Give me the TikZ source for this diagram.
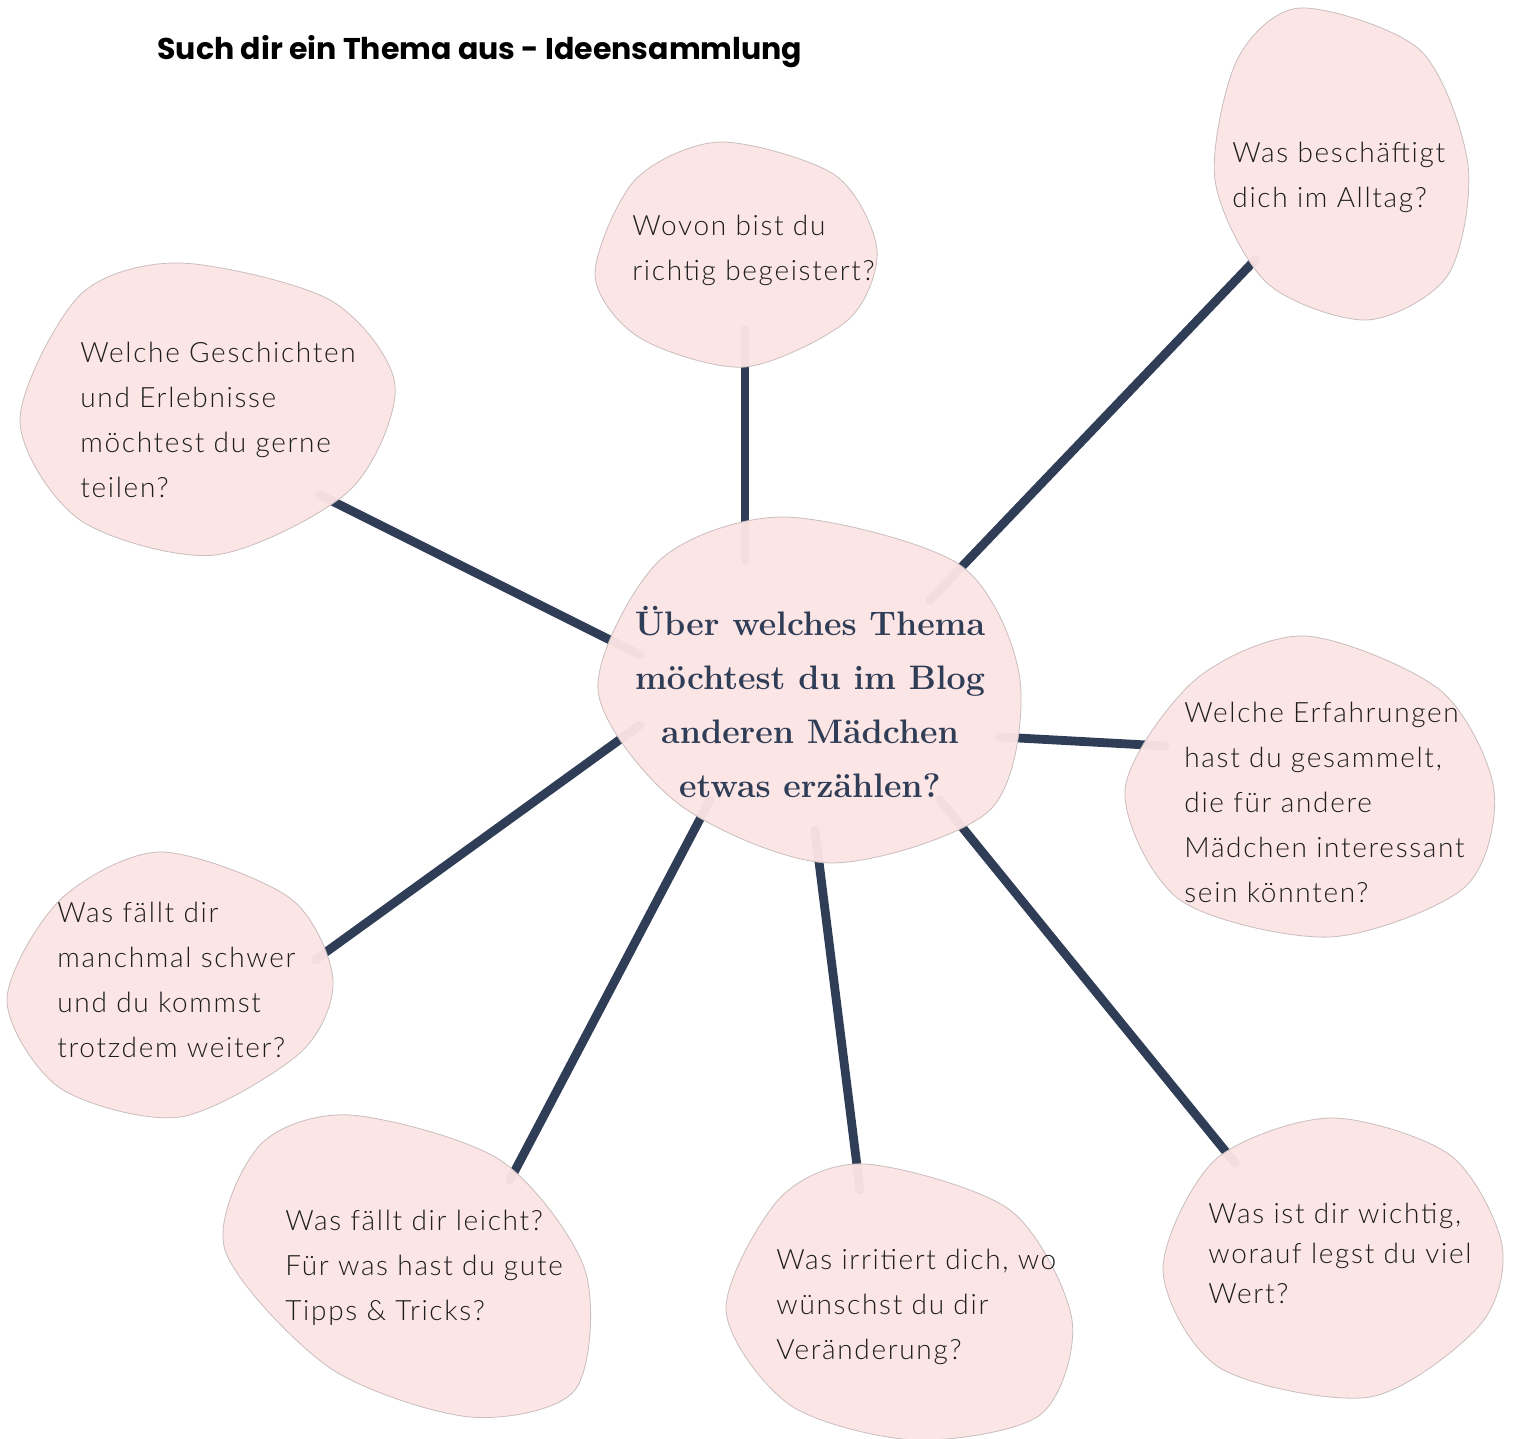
\documentclass[tikz,border=0pt]{standalone}
\usepackage{fontspec}
\newfontfamily\ideafont{Lato Light}[LetterSpace=6]
\newfontfamily\titlefont{Poppins}
\usetikzlibrary{positioning}

\definecolor{navy}{HTML}{2F3D56}
\definecolor{blobpink}{HTML}{FCE4E4}
\definecolor{blobline}{HTML}{C9BDBD}
\definecolor{ink}{HTML}{1E1E1E}

\tikzset{
  blob/.style={fill=blobpink,draw=blobline,line width=0.4pt,fill opacity=0.96},
  link/.style={draw=navy,line width=4.4pt,line cap=round},
  idea/.style={inner sep=0pt,anchor=west,align=left,text=ink,
    font=\ideafont\fontsize{14}{22.5}\selectfont},
  hubtext/.style={inner sep=0pt,align=center,text=navy,
    font=\bfseries\fontsize{17}{27}\selectfont}
}

\begin{document}
\begin{tikzpicture}[x=0.5pt,y=-0.5pt]
\useasboundingbox (0,0) rectangle (1517,1439);

\node[anchor=west,inner sep=0pt,font=\titlefont\bfseries\fontsize{15}{18}\selectfont] (title) at (157,52) {Such dir ein Thema aus - Ideensammlung};

%ends of the strokes
\coordinate (h-wovon) at (745,560);
\coordinate (o-wovon) at (745,330);
\coordinate (h-alltag) at (930,600);
\coordinate (o-alltag) at (1255,260);
\coordinate (h-geschichten) at (640,655);
\coordinate (o-geschichten) at (320,495);
\coordinate (h-erfahrungen) at (1000,737);
\coordinate (o-erfahrungen) at (1165,746);
\coordinate (h-schwer) at (640,725);
\coordinate (o-schwer) at (315,960);
\coordinate (h-leicht) at (710,800);
\coordinate (o-leicht) at (510,1180);
\coordinate (h-irritiert) at (815,830);
\coordinate (o-irritiert) at (860,1190);
\coordinate (h-wichtig) at (940,800);
\coordinate (o-wichtig) at (1235,1163);

\draw[link] (h-wovon) -- (o-wovon);
\draw[link] (h-alltag) -- (o-alltag);
\draw[link] (h-geschichten) -- (o-geschichten);
\draw[link] (h-erfahrungen) -- (o-erfahrungen);
\draw[link] (h-schwer) -- (o-schwer);
\draw[link] (h-leicht) -- (o-leicht);
\draw[link] (h-irritiert) -- (o-irritiert);
\draw[link] (h-wichtig) -- (o-wichtig);

%blobs
\draw[blob] plot[smooth cycle] coordinates {(720,142) (835,175) (877,250) (848,320) (745,367) (640,338) (595,275) (635,180)};
\draw[blob] plot[smooth cycle] coordinates {(1300,8) (1420,50) (1468,165) (1448,275) (1367,320) (1267,283) (1215,180) (1237,60)};
\draw[blob] plot[smooth cycle] coordinates {(180,263) (330,300) (395,385) (350,490) (215,555) (80,520) (20,420) (80,295)};
\draw[blob] plot[smooth cycle] coordinates {(785,517) (960,565) (1020,680) (990,810) (830,863) (680,805) (598,690) (660,560)};
\draw[blob] plot[smooth cycle] coordinates {(1305,636) (1440,690) (1494,790) (1465,887) (1330,937) (1180,900) (1125,790) (1195,680)};
\draw[blob] plot[smooth cycle] coordinates {(160,852) (290,898) (333,980) (300,1053) (180,1117) (60,1088) (7,1000) (60,900)};
\draw[blob] plot[smooth cycle] coordinates {(350,1115) (500,1160) (585,1270) (575,1390) (470,1417) (330,1368) (225,1250) (260,1145)};
\draw[blob] plot[smooth cycle] coordinates {(865,1164) (1010,1210) (1072,1320) (1040,1415) (915,1440) (790,1405) (726,1310) (780,1198)};
\draw[blob] plot[smooth cycle] coordinates {(1330,1118) (1450,1155) (1502,1245) (1480,1325) (1370,1397) (1220,1368) (1163,1270) (1215,1160)};

%texts
\node[hubtext] (hub) at (810,702) {Über welches Thema\\möchtest du im Blog\\anderen Mädchen\\etwas erzählen?};
\node[idea] (wovon) at (632,250) {Wovon bist du\\richtig begeistert?};
\node[idea] (alltag) at (1232,177) {Was beschäftigt\\dich im Alltag?};
\node[idea] (geschichten) at (80,420) {Welche Geschichten\\und Erlebnisse\\möchtest du gerne\\teilen?};
\node[idea] (erfahrungen) at (1184,802) {Welche Erfahrungen\\hast du gesammelt,\\die für andere\\Mädchen interessant\\sein könnten?};
\node[idea] (schwer) at (57,980) {Was fällt dir\\manchmal schwer\\und du kommst\\trotzdem weiter?};
\node[idea] (leicht) at (285,1268) {Was fällt dir leicht?\\Für was hast du gute\\Tipps \& Tricks?};
\node[idea] (irritiert) at (776,1307) {Was irritiert dich, wo\\wünschst du dir\\Veränderung?};
\node[idea,font=\ideafont\fontsize{14}{20}\selectfont] (wichtig) at (1208,1253) {Was ist dir wichtig,\\worauf legst du viel\\Wert?};

\end{tikzpicture}
\end{document}
